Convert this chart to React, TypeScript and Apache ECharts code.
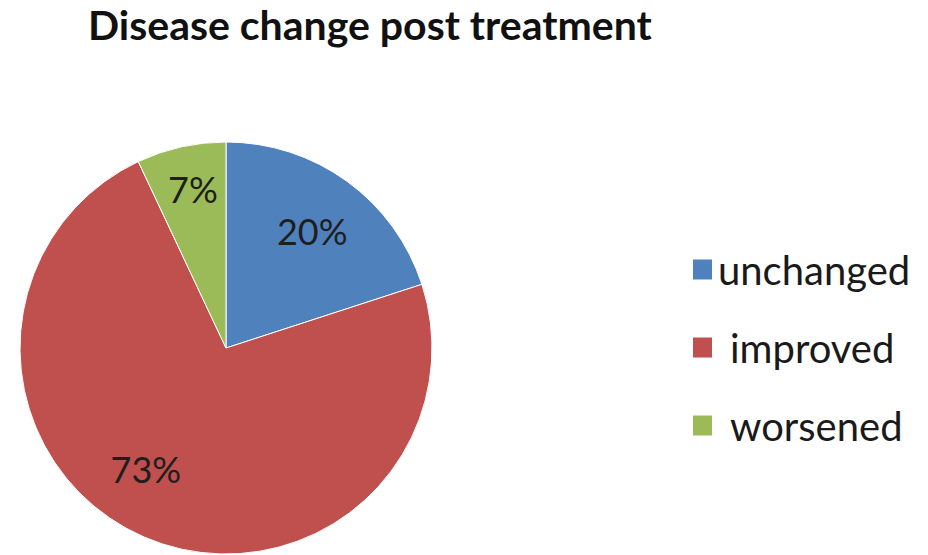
import React, { useEffect, useRef } from "react";
import * as echarts from "echarts";

const categories = ["unchanged", "improved", "worsened"];
const shares = [20, 73, 7];
const colors = ["#4F81BD", "#C0504D", "#9BBB59"];
// nudges that move each percentage label away from the default mid-radius spot
const labelOffsets: [number, number][] = [
  [24, -31],
  [-38, 24],
  [-10, -56],
];

const FONT = "Lato, 'Noto Sans', sans-serif";

export default function App() {
  const ref = useRef<HTMLDivElement>(null);

  useEffect(() => {
    if (!ref.current) return;
    const chart = echarts.init(ref.current, undefined, { renderer: "svg" });
    chart.setOption({
      animation: false,
      backgroundColor: "#ffffff",
      title: {
        text: "Disease change post treatment",
        left: 88,
        top: 2,
        padding: 0,
        textStyle: {
          fontFamily: FONT,
          fontWeight: "bold",
          fontSize: 41,
          lineHeight: 44,
          color: "#111111",
        },
      },
      legend: {
        orient: "vertical",
        left: 686,
        top: 242,
        icon: "rect",
        itemWidth: 21,
        itemHeight: 22,
        itemGap: 33,
        selectedMode: false,
        textStyle: {
          fontFamily: FONT,
          fontSize: 40,
          color: "#1a1a1a",
          lineHeight: 45,
        },
        data: categories.map((name, i) => ({
          name,
          textStyle: i === 0 ? {} : { padding: [0, 0, 0, 12] },
        })),
      },
      series: [
        {
          type: "pie",
          center: [226, 348],
          radius: [0, 206],
          startAngle: 90,
          clockwise: true,
          avoidLabelOverlap: false,
          itemStyle: { borderColor: "#ffffff", borderWidth: 1 },
          label: {
            show: true,
            position: "inside",
            formatter: "{c}%",
            fontFamily: FONT,
            fontSize: 36,
            color: "#1e1e1e",
          },
          labelLine: { show: false },
          emphasis: { disabled: true },
          data: categories.map((name, i) => ({
            name,
            value: shares[i],
            itemStyle: { color: colors[i] },
            label: { offset: labelOffsets[i] },
          })),
        },
      ],
    });
    return () => chart.dispose();
  }, []);

  return (
    <div
      ref={ref}
      style={{ position: "absolute", left: 0, top: 0, width: 928, height: 555 }}
    />
  );
}
